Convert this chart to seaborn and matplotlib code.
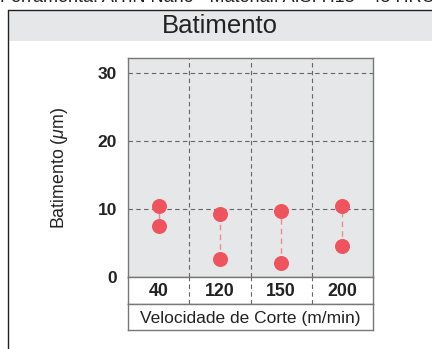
import matplotlib
matplotlib.use("Agg")
import matplotlib.pyplot as plt
import seaborn as sns
import pandas as pd
from matplotlib.patches import Rectangle
from matplotlib.lines import Line2D

# Runout measurements per cutting speed (two readings each)
speeds = ["40", "120", "150", "200"]
runout_high = [10.5, 9.2, 9.7, 10.5]
runout_low = [7.5, 2.6, 2.0, 4.5]
y_ticks = [0, 10, 20, 30]

sns.set_theme(style="white")
plt.rcParams["font.family"] = ["Liberation Sans", "DejaVu Sans"]
plt.rcParams["mathtext.fontset"] = "custom"
plt.rcParams["mathtext.it"] = "Liberation Sans:italic"

W, H = 432, 349
fig = plt.figure(figsize=(W / 100, H / 100), dpi=100)
fig.patch.set_facecolor("white")

def fax(x0, y0, x1, y1):
    return [x0 / W, 1 - y1 / H, (x1 - x0) / W, (y1 - y0) / H]

RED = "#EF545E"
LINE_RED = "#F08A90"
GRID = "#666666"
EDGE = "#777777"
TXT = "#222222"

# Panel frame and title band
fig.add_artist(Rectangle((8 / W, 1 - 41 / H), 1, 31 / H, transform=fig.transFigure,
                         facecolor="#E6E7E8", edgecolor="none", zorder=0))
fig.add_artist(Line2D([8 / W, 1], [1 - 10 / H, 1 - 10 / H], transform=fig.transFigure,
                      color=TXT, lw=1.0))
fig.add_artist(Line2D([8 / W, 8 / W], [0, 1 - 10 / H], transform=fig.transFigure,
                      color=TXT, lw=1.0))
fig.text(220 / W, 1 - 26 / H, "Batimento", ha="center", va="center",
         fontsize=18.5, color=TXT)
fig.text(0, 1 - 2 / H, "Ferramenta: AlTiN Nano - Material: AISI H13 - 45 HRC - Fresa",
         ha="left", va="baseline", fontsize=13, color=TXT)

# Main plot area
ax = fig.add_axes(fax(128, 58, 373, 277))
df = pd.DataFrame({
    "speed": speeds * 2,
    "runout": runout_high + runout_low,
})
ax.set_facecolor("#E6E7E8")
for i, (hi, lo) in enumerate(zip(runout_high, runout_low)):
    ax.plot([i, i], [lo, hi], color=LINE_RED, lw=1.0,
            ls=(0, (4, 3)) if hi - lo > 4 else "-", zorder=2)
sns.stripplot(data=df, x="speed", y="runout", order=speeds, jitter=False,
              color=RED, size=10.8, linewidth=0, ax=ax, zorder=3)
ax.set_xlim(-0.5, 3.5)
ax.set_ylim(0, 32.2)
ax.set_yticks(y_ticks)
ax.set_yticklabels([str(t) for t in y_ticks], fontsize=12.5, fontweight="bold",
                   color=TXT)
ax.tick_params(axis="y", length=0, pad=8)
ax.set_xticks([])
ax.set_xlabel("")
ax.set_ylabel("Batimento ($\\mu$m)", fontsize=12.8, color=TXT, labelpad=20)
for y in y_ticks[1:]:
    ax.axhline(y, color=GRID, lw=0.8, ls=(0, (4, 3)), zorder=1)
for x in [0.5, 1.5, 2.5]:
    ax.axvline(x, color=GRID, lw=0.8, ls=(0, (4, 3)), zorder=1)
for s in ax.spines.values():
    s.set_color(EDGE)
    s.set_linewidth(1.0)

# Category label row
tax = fig.add_axes(fax(128, 277, 373, 304))
tax.set_xlim(-0.5, 3.5)
tax.set_ylim(0, 1)
tax.set_facecolor("white")
tax.set_xticks([])
tax.set_yticks([])
for x in [0.5, 1.5, 2.5]:
    tax.axvline(x, color=GRID, lw=0.8, ls=(0, (4, 3)))
for i, s in enumerate(speeds):
    tax.text(i, 0.45, s, ha="center", va="center", fontsize=12.8,
             fontweight="bold", color=TXT)
for s in tax.spines.values():
    s.set_color(EDGE)
    s.set_linewidth(1.0)

# Axis title box
lax = fig.add_axes(fax(128, 304, 373, 330))
lax.set_facecolor("white")
lax.set_xticks([])
lax.set_yticks([])
lax.text(0.5, 0.45, "Velocidade de Corte (m/min)", ha="center", va="center",
         fontsize=12.5, color=TXT, transform=lax.transAxes)
for s in lax.spines.values():
    s.set_color(EDGE)
    s.set_linewidth(1.0)

fig.savefig("out.png", dpi=100)
